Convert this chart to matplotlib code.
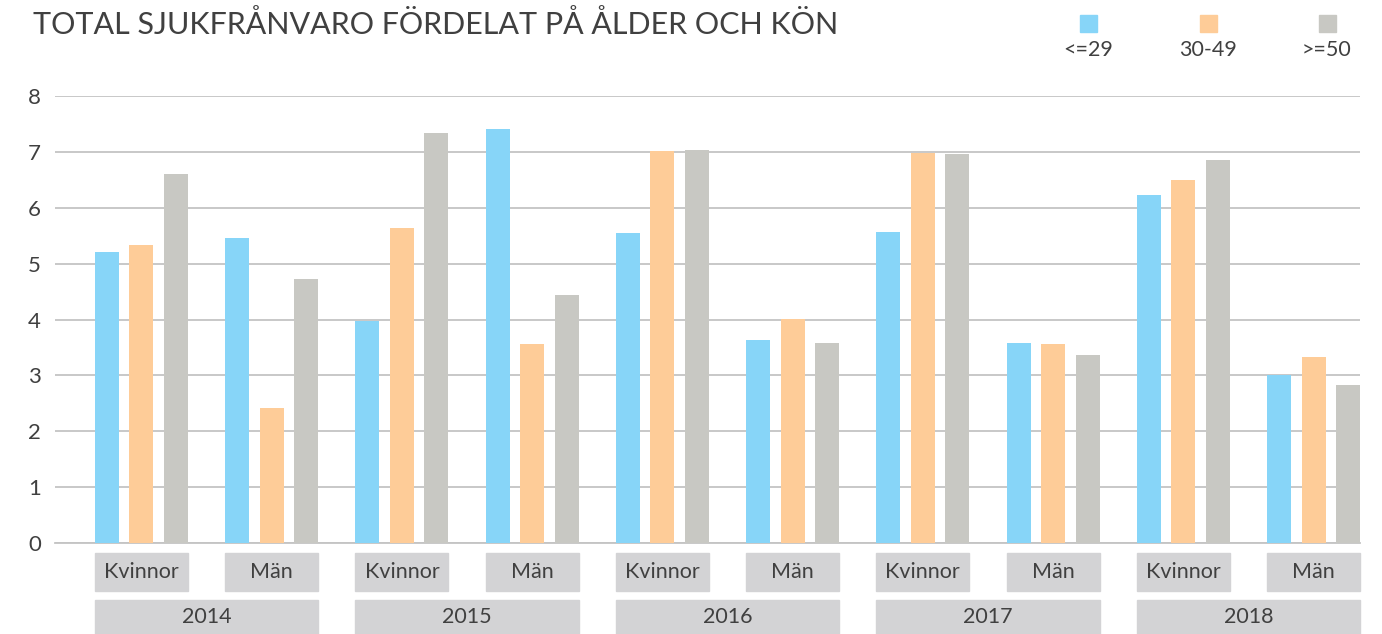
import numpy as np
import matplotlib
matplotlib.use("Agg")
import matplotlib.pyplot as plt
from matplotlib.patches import Rectangle
from matplotlib import transforms

plt.rcParams['font.family'] = ['Lato', 'DejaVu Sans']

# data
years = ['2014', '2015', '2016', '2017', '2018']
sexes = ['Kvinnor', 'Män']
age_groups = ['<=29', '30-49', '>=50']
young = [5.21, 5.46, 3.97, 7.41, 5.55, 3.63, 5.56, 3.58, 6.23, 3.00]
middle = [5.33, 2.42, 5.64, 3.56, 7.01, 4.01, 6.98, 3.56, 6.49, 3.33]
older = [6.60, 4.72, 7.33, 4.44, 7.03, 3.58, 6.96, 3.36, 6.85, 2.83]

colors = ['#87d5f8', '#fecc98', '#c8c8c3']
box_color = '#d3d3d5'
text_color = '#404040'

W, H = 1382, 634
fig = plt.figure(figsize=(W / 100, H / 100), dpi=100)

# axes in pixel positions: x 55..1360, y 96..543
ax = fig.add_axes([55 / W, (H - 543) / H, (1360 - 55) / W, (543 - 96) / H])

slot = 130.3  # px per group
off = 34.5 / slot
bw = 24 / slot
half = off + bw / 2

x = np.arange(len(young))
for i, vals in enumerate([young, middle, older]):
    ax.bar(x + (i - 1) * off, vals, width=bw, color=colors[i],
           edgecolor='none', zorder=3)

ax.set_xlim(-half - 40 / slot, x[-1] + half)
ax.set_ylim(0, 8)
ax.set_yticks(range(0, 9))
ax.yaxis.grid(True, color='#c4c4c4', linewidth=1.3, zorder=0)
ax.set_axisbelow(True)
for s in ['top', 'right', 'left']:
    ax.spines[s].set_visible(False)
ax.spines['bottom'].set_color('#c4c4c4')
ax.spines['bottom'].set_linewidth(1.3)
ax.tick_params(axis='y', length=0, pad=10, labelsize=16, labelcolor=text_color)
ax.set_xticks([])

# category boxes below axis (x in data, y in figure fraction)
trans = transforms.blended_transform_factory(ax.transData, fig.transFigure)
def fy(px):
    return (H - px) / H

for k in range(len(x)):
    r = Rectangle((x[k] - half, fy(591)), 2 * half, fy(553) - fy(591),
                  transform=trans, color=box_color, clip_on=False)
    fig.add_artist(r)
    t = fig.text(0, 0, sexes[k % 2], transform=trans, fontsize=15.5,
                 color=text_color, ha='center', va='center')
    t.set_position((x[k], fy(572)))

for j, yr in enumerate(years):
    left = x[2 * j] - half
    right = x[2 * j + 1] + half
    r = Rectangle((left, fy(634)), right - left, fy(600) - fy(634),
                  transform=trans, color=box_color, clip_on=False)
    fig.add_artist(r)
    t = fig.text(0, 0, yr, transform=trans, fontsize=15.5, color=text_color,
                 ha='center', va='center')
    t.set_position(((left + right) / 2, fy(617)))

# title
fig.text(33 / W, fy(25), 'TOTAL SJUKFRÅNVARO FÖRDELAT PÅ ÅLDER OCH KÖN',
         fontsize=22, color=text_color, ha='left', va='center')

# legend
leg_x = [1088, 1208, 1327]
for i, lab in enumerate(age_groups):
    fig.add_artist(Rectangle(((leg_x[i] - 8.5) / W, fy(32)), 17 / W, 17 / H,
                             transform=fig.transFigure, color=colors[i]))
    fig.text(leg_x[i] / W, fy(50), lab, fontsize=15.5, color=text_color,
             ha='center', va='center')

fig.savefig('out.png', dpi=100)
